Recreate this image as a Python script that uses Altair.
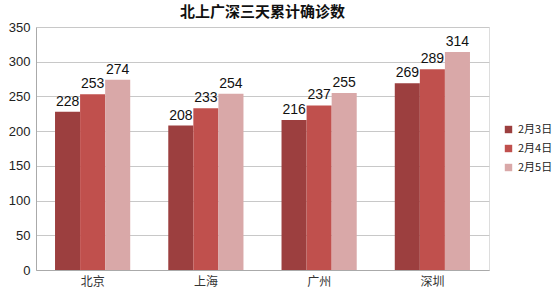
import altair as alt
import pandas as pd

cities = ["北京", "上海", "广州", "深圳"]
dates = ["2月3日", "2月4日", "2月5日"]
feb3 = [228, 208, 216, 269]
feb4 = [253, 233, 237, 289]
feb5 = [274, 254, 255, 314]
colors = ["#9C3F3F", "#C0504D", "#D9A8A8"]
yticks = [0, 50, 100, 150, 200, 250, 300, 350]

rows = []
for i, c in enumerate(cities):
    for d, vals in zip(dates, [feb3, feb4, feb5]):
        rows.append({"城市": c, "日期": d, "确诊": vals[i]})
df = pd.DataFrame(rows)

yaxis = alt.Axis(title=None, values=yticks, labelFontSize=13,
                 labelFont="Liberation Sans", labelColor="#222222",
                 ticks=False, domainColor="#AAAAAA", gridColor="#C8C8C8",
                 labelPadding=6, labelOverlap=False)

base = alt.Chart(df).encode(
    x=alt.X("城市:N", sort=cities,
            scale=alt.Scale(paddingInner=0.336, paddingOuter=0.168),
            axis=alt.Axis(title=None, labelAngle=0, labelFontSize=12,
                          labelFont="Noto Sans CJK SC", labelColor="#333333",
                          ticks=False, domain=True, domainColor="#AAAAAA",
                          labelPadding=6)),
    xOffset=alt.XOffset("日期:N", sort=dates, scale=alt.Scale(paddingInner=0, paddingOuter=0)),
    y=alt.Y("确诊:Q", scale=alt.Scale(domain=[0, 350], nice=False), axis=yaxis),
)

bars = base.mark_bar().encode(
    color=alt.Color("日期:N", sort=dates,
                    scale=alt.Scale(domain=dates, range=colors),
                    legend=alt.Legend(title=None, orient="none", legendX=467, legendY=97,
                                      symbolType="square", symbolSize=55, symbolStrokeWidth=0,
                                      labelFontSize=11, labelFont="Noto Sans CJK SC",
                                      labelColor="#222222", rowPadding=7)),
)

labels = base.mark_text(baseline="bottom", dy=-3, fontSize=14, font="Liberation Sans",
                        color="#111111").encode(
    text=alt.Text("确诊:Q"),
)

chart = (bars + labels).properties(
    width=453, height=243,
    title=alt.TitleParams("北上广深三天累计确诊数", fontSize=15, font="Noto Sans CJK SC",
                          fontWeight="bold", color="#111111", anchor="middle", offset=1),
    autosize=alt.AutoSizeParams(type="none"),
    padding={"left": 36, "top": 27, "right": 65, "bottom": 27},
).configure_view(strokeWidth=0).configure(background="white")

chart.save("out.html", embed_options={"renderer": "svg", "actions": False})
